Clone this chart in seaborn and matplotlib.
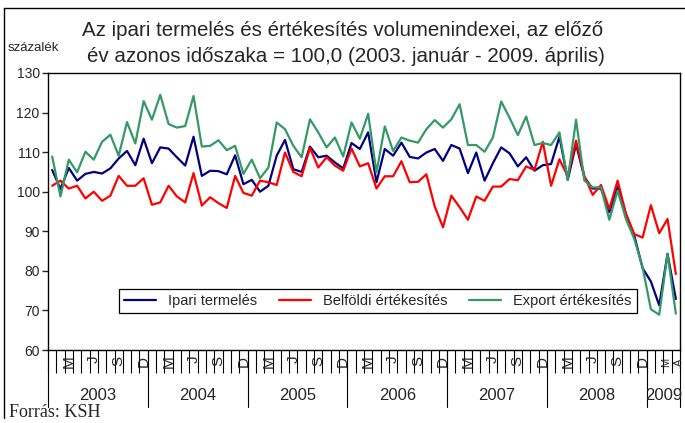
import numpy as np
import pandas as pd
import matplotlib
matplotlib.use('Agg')
import matplotlib.pyplot as plt
import matplotlib.transforms as mtransforms
from matplotlib.lines import Line2D
import seaborn as sns

# havi adatok 2003. jan - 2009. apr (76 honap)
ipari = [105.5, 100.7, 106.0, 102.8, 104.5, 105.0, 104.6, 105.9, 108.4, 110.3, 106.7, 113.4,
         107.2, 111.2, 110.9, 108.7, 106.6, 113.9, 104.0, 105.3, 105.2, 104.4, 109.2, 101.9,
         103.0, 100.0, 101.5, 109.1, 113.1, 105.7, 105.0, 111.4, 108.7, 109.1, 107.4, 105.9,
         112.3, 110.8, 115.0, 102.4, 110.8, 109.1, 112.4, 108.8, 108.4, 109.9, 110.8, 107.8,
         111.8, 110.9, 104.7, 109.9, 102.8, 107.2, 111.2, 109.7, 106.4, 108.7, 105.3, 106.7,
         107.0, 113.9, 103.0, 112.0, 103.6, 100.8, 100.8, 94.8, 101.3, 94.4, 88.9, 80.7,
         77.3, 71.3, 84.3, 72.9]
belfoldi = [101.5, 102.8, 100.8, 101.5, 98.3, 100.0, 97.7, 99.0, 104.0, 101.5, 101.5, 103.4,
            96.7, 97.3, 101.5, 98.8, 97.3, 104.7, 96.5, 98.6, 97.1, 95.9, 104.0, 99.7,
            99.0, 102.8, 102.4, 101.7, 109.9, 105.0, 103.9, 111.1, 106.1, 108.7, 106.6, 105.3,
            110.9, 106.4, 107.2, 100.8, 103.9, 103.9, 107.7, 102.4, 102.5, 104.4, 96.3, 91.0,
            99.0, 96.1, 92.9, 98.8, 97.7, 101.3, 101.3, 103.2, 102.9, 106.4, 105.5, 112.6,
            101.5, 108.2, 103.9, 112.9, 104.0, 99.2, 101.7, 95.6, 102.8, 94.4, 89.3, 88.4,
            96.6, 89.5, 93.1, 79.2]
export = [108.9, 98.8, 108.1, 104.9, 110.1, 108.1, 112.6, 114.4, 109.1, 117.6, 112.2, 122.9,
          118.2, 124.5, 117.1, 116.2, 116.6, 124.2, 111.4, 111.6, 113.0, 110.5, 111.6, 104.5,
          108.1, 103.4, 106.1, 117.5, 115.8, 111.6, 108.7, 118.3, 115.0, 111.2, 113.7, 108.9,
          117.5, 113.4, 119.7, 104.9, 116.5, 110.3, 113.7, 112.9, 112.4, 115.8, 118.1, 116.2,
          118.3, 122.1, 111.8, 111.8, 110.1, 113.7, 122.8, 118.7, 114.3, 119.0, 111.8, 112.3,
          111.8, 115.0, 103.0, 118.2, 102.8, 101.1, 101.1, 92.9, 100.3, 93.1, 88.1, 80.9,
          70.3, 68.9, 84.3, 69.2]

series_names = ['Ipari termelés', 'Belföldi értékesítés', 'Export értékesítés']
years = ['2003', '2004', '2005', '2006', '2007', '2008', '2009']
month_pos = [2, 5, 8, 11, 14, 17, 20, 23, 26, 29, 32, 35, 38, 41, 44, 47,
             50, 53, 56, 59, 62, 65, 68, 71]
month_lbl = ['M', 'J', 'S', 'D'] * 6
# 2009: marcius, aprilis (szorosan egymas mellett)
pos_2009 = [73.8, 75.4]
lbl_2009 = ['M', 'A']

n = len(ipari)
df = pd.DataFrame({
    'honap': np.tile(np.arange(n), 3),
    'ertek': ipari + belfoldi + export,
    'sor': np.repeat(series_names, n),
})

sns.set_style('white')
plt.rcParams['font.family'] = ['Liberation Sans', 'DejaVu Sans']

fig = plt.figure(figsize=(6.85, 4.23), dpi=100)
ax = fig.add_axes([48 / 685, 1 - 350 / 423, 632 / 685, 277 / 423])

palette = {'Ipari termelés': '#000080', 'Belföldi értékesítés': '#ff0000',
           'Export értékesítés': '#339966'}
sns.lineplot(data=df, x='honap', y='ertek', hue='sor', hue_order=series_names,
             palette=palette, linewidth=1.6, ax=ax, legend=False)

ax.set_xlim(-0.5, n - 0.5)
ax.set_ylim(60, 130)
ax.set_yticks(range(60, 131, 10))
ax.tick_params(axis='y', direction='out', length=4, width=1, labelsize=10, pad=2, left=True)
ax.set_xlabel('')
ax.set_ylabel('')
for s in ax.spines.values():
    s.set_color('black')
    s.set_linewidth(1)

# honaphatarok
ax.set_xticks(np.arange(-0.5, n, 1))
ax.set_xticklabels([])
ax.tick_params(axis='x', which='major', direction='out', length=16.5, width=0.8,
               color='black', bottom=True)
ax.set_xticks(month_pos, minor=True)
ax.set_xticklabels(month_lbl, minor=True, rotation=90, fontsize=11)
ax.tick_params(axis='x', which='minor', length=0, pad=4, bottom=True)

trans = mtransforms.blended_transform_factory(ax.transData, ax.transAxes)
for p, l in zip(pos_2009, lbl_2009):
    ax.text(p, -12 / 277, l, transform=trans, rotation=90, ha='center', va='center',
            fontsize=8)

# evek
bounds = [-0.5, 11.5, 23.5, 35.5, 47.5, 59.5, 71.5, 75.5]
for b in bounds:
    ax.plot([b, b], [0, -57 / 277], color='black', lw=0.8, transform=trans, clip_on=False)
for i, y in enumerate(years):
    ax.text((bounds[i] + bounds[i + 1]) / 2, -45 / 277, y, transform=trans,
            ha='center', va='center', fontsize=12)

handles = [Line2D([], [], color=palette[s], lw=1.6) for s in series_names]
leg = ax.legend(handles, series_names, ncol=3, loc='center',
                bbox_to_anchor=(0.522, 0.177), fontsize=10.5, frameon=True,
                fancybox=False, edgecolor='black', framealpha=1,
                handlelength=2.2, columnspacing=1.5, borderpad=0.35)
leg.get_frame().set_linewidth(0.9)

fig.text(343 / 685, 1 - 31 / 423, 'Az ipari termelés és értékesítés volumenindexei, az előző',
         ha='center', va='center', fontsize=14.8)
fig.text(346 / 685, 1 - 57 / 423, 'év azonos időszaka = 100,0 (2003. január - 2009. április)',
         ha='center', va='center', fontsize=14.8)
fig.text(8 / 685, 1 - 48 / 423, 'százalék', ha='left', va='center', fontsize=9.5)
fig.text(9 / 685, 1 - 412 / 423, 'Forrás: KSH', ha='left', va='center', fontsize=13,
         family=['Liberation Serif', 'DejaVu Serif'])

# keret
fig.add_artist(Line2D([4 / 685, 1], [1 - 8 / 423, 1 - 8 / 423], color='black', lw=1))
fig.add_artist(Line2D([4 / 685, 4 / 685], [1 - 8 / 423, 1 - 418 / 423], color='black', lw=1))

fig.savefig('out.png', dpi=100)
